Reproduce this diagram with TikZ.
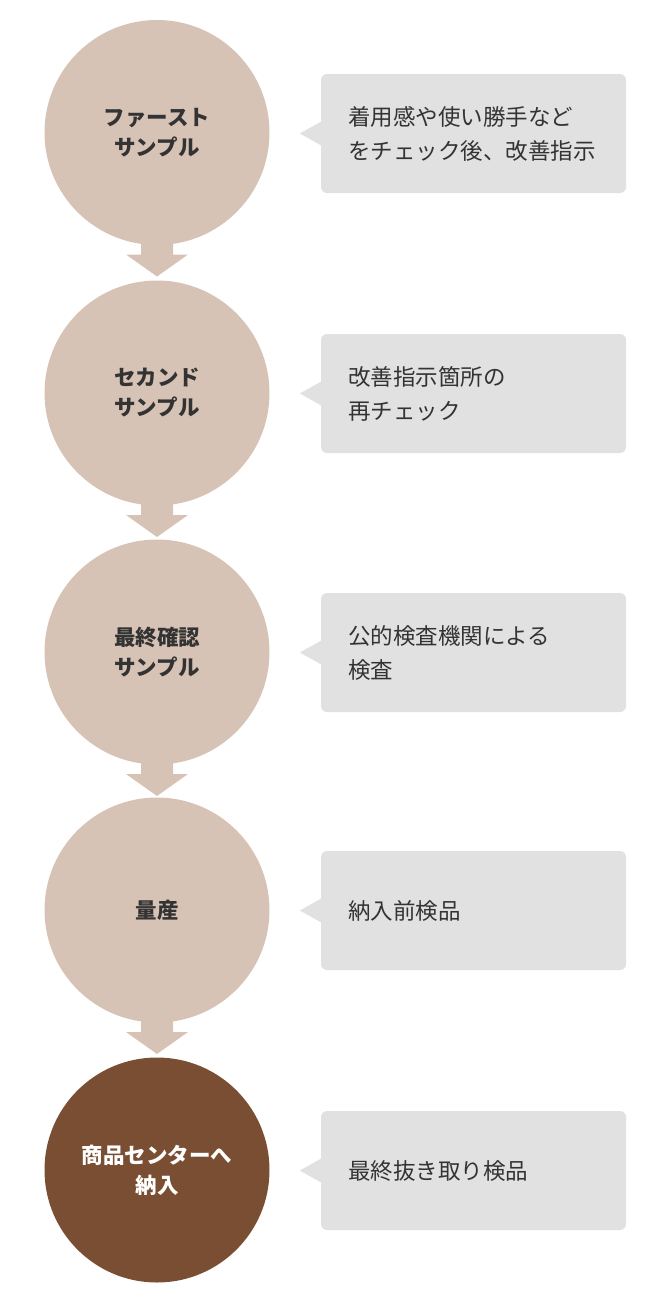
\documentclass[tikz,border=0pt]{standalone}
\usepackage{fontspec}
\usetikzlibrary{calc}
\newfontfamily\jp{Noto Sans CJK JP}
\definecolor{lightc}{HTML}{D7C3B5}
\definecolor{darkc}{HTML}{7A4E33}
\definecolor{boxc}{HTML}{E1E1E1}
\definecolor{txt}{HTML}{333333}
\tikzset{
  stepcircle/.style={circle, fill=lightc, minimum size=225pt, inner sep=0pt, align=center, text=txt,
    font={\jp\bfseries\fontsize{21.5}{30}\selectfont}},
  darkcircle/.style={stepcircle, fill=darkc, text=white},
  notebox/.style={rectangle, rounded corners=6pt, fill=boxc, minimum width=305pt, minimum height=119pt, inner sep=0pt},
  notetext/.style={anchor=west, align=left, text=txt, inner sep=0pt, font={\jp\fontsize{22.5}{34}\selectfont}},
  flowarrow/.style={fill=lightc},
  pointer/.style={fill=boxc}
}
\begin{document}
\begin{tikzpicture}[x=1pt,y=-1pt]
\useasboundingbox (0,0) rectangle (670,1302);
% circles
\node[stepcircle] (c1) at (157,132.5) {ファースト\\サンプル};
\node[stepcircle] (c2) at (157,393) {セカンド\\サンプル};
\node[stepcircle] (c3) at (157,652) {最終確認\\サンプル};
\node[stepcircle] (c4) at (157,910) {量産};
\node[darkcircle] (c5) at (157,1170) {商品センターへ\\納入};
% arrows
\foreach \i in {1,2,3,4}{
  \fill[flowarrow] ($(c\i.center)+(-16,105)$) -- ($(c\i.center)+(16,105)$) -- ($(c\i.center)+(16,122)$)
    -- ($(c\i.center)+(31,122)$) -- ($(c\i.center)+(0,144)$) -- ($(c\i.center)+(-31,122)$)
    -- ($(c\i.center)+(-16,122)$) -- cycle;
}
% boxes
\foreach \i/\y in {1/133.5,2/393.5,3/652.5,4/910.5,5/1170.5}{
  \node[notebox] (b\i) at (473.5,\y) {};
  \fill[pointer] ($(b\i.west)+(0.5,-12)$) -- ($(b\i.west)+(-21,0)$) -- ($(b\i.west)+(0.5,12)$) -- cycle;
}
\node[notetext] (t1) at ($(b1.west)+(27,0)$) {着用感や使い勝手など\\をチェック後、改善指示};
\node[notetext] (t2) at ($(b2.west)+(27,0)$) {改善指示箇所の\\再チェック};
\node[notetext] (t3) at ($(b3.west)+(27,0)$) {公的検査機関による\\検査};
\node[notetext] (t4) at ($(b4.west)+(27,0)$) {納入前検品};
\node[notetext] (t5) at ($(b5.west)+(27,0)$) {最終抜き取り検品};
\end{tikzpicture}
\end{document}
